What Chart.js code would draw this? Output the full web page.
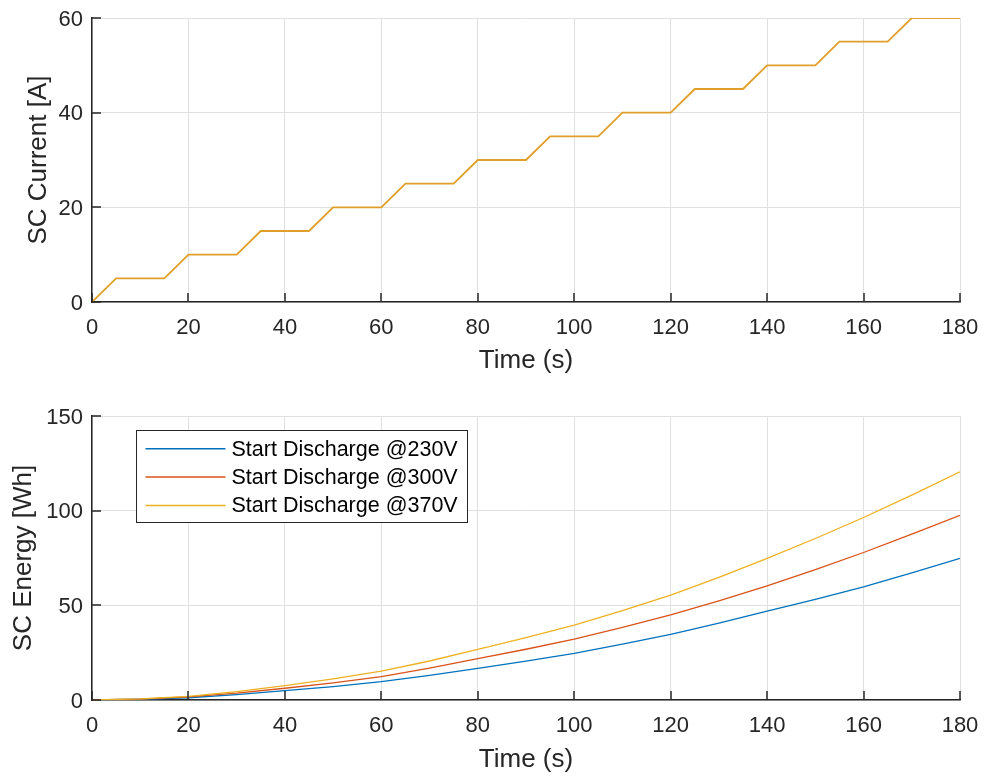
<!DOCTYPE html>
<html>
<head>
<meta charset="utf-8">
<script src="https://cdn.jsdelivr.net/npm/chart.js@4"></script>
<style>
  body { margin: 0; background: #fff; }
  .plot { position: absolute; left: 0; }
</style>
</head>
<body>
<div class="plot" style="top:0"><canvas id="currentChart" width="985" height="390"></canvas></div>
<div class="plot" style="top:390px"><canvas id="energyChart" width="985" height="387"></canvas></div>
<script>
// top plot: current staircase
const currentTime = [0, 5, 15, 20, 30, 35, 45, 50, 60, 65, 75, 80, 90, 95, 105, 110, 120, 125, 135, 140, 150, 155, 165, 170, 180];
const currentAmps = [0, 5, 5, 10, 10, 15, 15, 20, 20, 25, 25, 30, 30, 35, 35, 40, 40, 45, 45, 50, 50, 55, 55, 60, 60];

// bottom plot: energy for the three start voltages
const energyTime = [0, 10, 20, 30, 40, 50, 60, 70, 80, 90, 100, 110, 120, 130, 140, 150, 160, 170, 180];
const energy230 = [0, 0.4, 1.2, 2.8, 4.9, 7.1, 9.7, 13.0, 16.7, 20.5, 24.6, 29.5, 34.7, 40.6, 47.0, 53.2, 59.8, 67.2, 74.8];
const energy300 = [0, 0.5, 1.6, 3.6, 6.2, 9.0, 12.3, 16.8, 21.8, 26.8, 32.2, 38.3, 44.9, 52.4, 60.3, 68.8, 77.9, 87.6, 97.5];
const energy370 = [0, 0.6, 1.9, 4.4, 7.6, 11.2, 15.3, 20.6, 26.7, 32.9, 39.6, 47.2, 55.4, 64.8, 74.8, 85.3, 96.4, 108.2, 120.5];
const seriesLabels = ['Start Discharge @230V', 'Start Discharge @300V', 'Start Discharge @370V'];

const FONT = '"Liberation Sans", Arial, Helvetica, sans-serif';
const INK = '#262626';

const pts = (xs, ys) => xs.map((x, i) => ({x: x, y: ys[i]}));

// matlab style ticks pointing into the axes
const innerTicks = {
  id: 'innerTicks',
  afterDatasetsDraw(chart) {
    const {ctx, chartArea: a, scales: {x, y}} = chart;
    ctx.save();
    ctx.strokeStyle = INK;
    ctx.lineWidth = 1.5;
    ctx.beginPath();
    x.ticks.forEach(t => {
      const px = Math.round(x.getPixelForValue(t.value));
      ctx.moveTo(px, a.bottom);
      ctx.lineTo(px, a.bottom - 9);
    });
    y.ticks.forEach(t => {
      const py = Math.round(y.getPixelForValue(t.value));
      ctx.moveTo(a.left, py);
      ctx.lineTo(a.left + 9, py);
    });
    ctx.stroke();
    ctx.restore();
  }
};

// legend box inside the plot, top left
const boxLegend = {
  id: 'boxLegend',
  afterDraw(chart) {
    if (!chart.options.plugins.boxLegend) return;
    const {ctx, chartArea: a} = chart;
    const bx = a.left + 44.5, by = a.top + 14.5, bw = 331, bh = 92;
    ctx.save();
    ctx.fillStyle = '#fff';
    ctx.fillRect(bx, by, bw, bh);
    ctx.strokeStyle = INK;
    ctx.lineWidth = 1;
    ctx.strokeRect(bx, by, bw, bh);
    ctx.font = '21.5px ' + FONT;
    ctx.textBaseline = 'middle';
    chart.data.datasets.forEach((ds, i) => {
      const ry = by + 18.3 + i * 28.3;
      ctx.strokeStyle = ds.borderColor;
      ctx.lineWidth = 1.5;
      ctx.beginPath();
      ctx.moveTo(bx + 9, ry);
      ctx.lineTo(bx + 89, ry);
      ctx.stroke();
      ctx.fillStyle = '#000';
      ctx.fillText(ds.label, bx + 95, ry + 1);
    });
    ctx.restore();
  }
};

// no extra room for overhanging tick labels, the layout padding already sets the box
function noOverhang(s) {
  s.paddingTop = 0;
  s.paddingBottom = 0;
  s.paddingLeft = 0;
  s.paddingRight = 0;
}

function makeOptions(o) {
  return {
    responsive: false,
    animation: false,
    devicePixelRatio: 1,
    layout: {padding: {top: o.padTop, right: 25, left: 0, bottom: 0}},
    plugins: {legend: {display: false}, tooltip: {enabled: false}, boxLegend: o.legend},
    elements: {point: {radius: 0}, line: {tension: 0}},
    scales: {
      x: {
        type: 'linear', min: 0, max: 180,
        afterFit(s) { s.height = o.xHeight; noOverhang(s); },
        ticks: {stepSize: 20, padding: 13, color: INK, font: {family: FONT, size: 22}, maxRotation: 0},
        grid: {color: '#e0e0e0', drawTicks: false},
        border: {color: INK, width: 1.5},
        title: {display: true, text: 'Time (s)', color: INK, font: {family: FONT, size: 26}, padding: {top: 0, bottom: o.xTitlePad}}
      },
      y: {
        min: 0, max: o.yMax,
        afterFit(s) { s.width = 92; noOverhang(s); },
        ticks: {stepSize: o.yStep, padding: 9, labelOffset: 1.5, color: INK, font: {family: FONT, size: 22}},
        grid: {color: '#e0e0e0', drawTicks: false},
        border: {color: INK, width: 1.5},
        title: {display: true, text: o.yTitle, color: INK, font: {family: FONT, size: 26}, padding: {top: o.yTitlePad, bottom: 0}}
      }
    }
  };
}

new Chart(document.getElementById('currentChart'), {
  type: 'line',
  data: {
    datasets: [{
      label: 'SC Current',
      data: pts(currentTime, currentAmps),
      borderColor: '#DF9F2A',
      borderWidth: 1.8
    }]
  },
  options: makeOptions({padTop: 18, xHeight: 88, xTitlePad: 13.4, yMax: 60, yStep: 20, yTitle: 'SC Current [A]', yTitlePad: 22.9, legend: false}),
  plugins: [innerTicks]
});

new Chart(document.getElementById('energyChart'), {
  type: 'line',
  data: {
    datasets: [
      {label: seriesLabels[0], data: pts(energyTime, energy230), borderColor: '#0072BD', borderWidth: 1.3, order: 3},
      {label: seriesLabels[1], data: pts(energyTime, energy300), borderColor: '#D95319', borderWidth: 1.3, order: 2},
      {label: seriesLabels[2], data: pts(energyTime, energy370), borderColor: '#EDB120', borderWidth: 1.3, order: 1}
    ]
  },
  options: makeOptions({padTop: 26, xHeight: 77, xTitlePad: 1.4, yMax: 150, yStep: 50, yTitle: 'SC Energy [Wh]', yTitlePad: 7.9, legend: true}),
  plugins: [innerTicks, boxLegend]
});
</script>
</body>
</html>
